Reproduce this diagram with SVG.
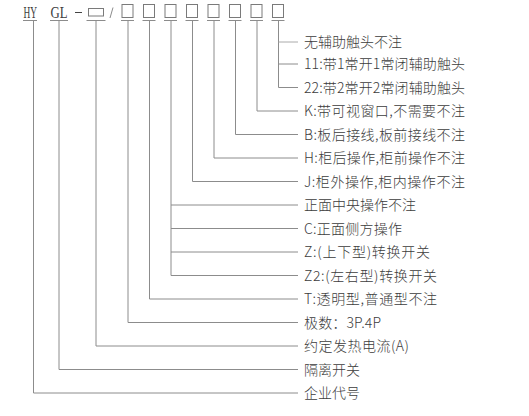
<svg xmlns="http://www.w3.org/2000/svg" width="529" height="416" viewBox="0 0 529 416">
<style>
.ln{stroke:#8c8c8c;stroke-width:1;fill:none}
.bx{stroke:#7a7a7a;stroke-width:1;fill:#fff}
.lb{font-family:"Noto Sans CJK SC","Noto Sans",sans-serif;font-size:14px;font-weight:300;fill:#3c3c3c}
.hd{font-family:"Liberation Serif","DejaVu Serif",serif;font-size:16px;fill:#3c3c3c}
</style>
<rect width="529" height="416" fill="#fff"/>
<g id="header">
<text class="hd" x="23.5" y="18" textLength="13.5" lengthAdjust="spacingAndGlyphs">HY</text>
<text class="hd" x="50.5" y="18" textLength="17" lengthAdjust="spacingAndGlyphs">GL</text>
<line class="ln" x1="75" y1="12.5" x2="82" y2="12.5" style="stroke:#444"/>
<rect class="bx" x="88.5" y="8.5" width="15" height="7.5"/>
<line class="ln" x1="113" y1="7.5" x2="110" y2="18"/>
<rect class="bx" x="122" y="4.5" width="11" height="13"/>
<rect class="bx" x="143.5" y="4.5" width="11" height="13"/>
<rect class="bx" x="165" y="4.5" width="11" height="13"/>
<rect class="bx" x="186.5" y="4.5" width="11" height="13"/>
<rect class="bx" x="208" y="4.5" width="11" height="13"/>
<rect class="bx" x="229.5" y="4.5" width="11" height="13"/>
<rect class="bx" x="251" y="4.5" width="11" height="13"/>
<rect class="bx" x="272.5" y="4.5" width="11" height="13"/>
<g class="ln">
<line x1="23" y1="20.5" x2="37" y2="20.5"/>
<line x1="50" y1="20.5" x2="68" y2="20.5"/>
<line x1="86.5" y1="20.5" x2="105.5" y2="20.5"/>
<line x1="121" y1="20.5" x2="134" y2="20.5"/>
<line x1="142.5" y1="20.5" x2="155.5" y2="20.5"/>
<line x1="164" y1="20.5" x2="177" y2="20.5"/>
<line x1="185.5" y1="20.5" x2="198.5" y2="20.5"/>
<line x1="207" y1="20.5" x2="220" y2="20.5"/>
<line x1="228.5" y1="20.5" x2="241.5" y2="20.5"/>
<line x1="250" y1="20.5" x2="263" y2="20.5"/>
<line x1="271.5" y1="20.5" x2="284.5" y2="20.5"/>
</g>
</g>
<g id="connectors" class="ln">
<polyline points="278.5,20.5 278.5,87.5 298,87.5"/>
<line x1="278.5" y1="42" x2="298" y2="42" style="stroke:#aaa"/>
<line x1="278.5" y1="64" x2="298" y2="64"/>
<polyline points="257,20.5 257,111 298,111"/>
<polyline points="235.5,20.5 235.5,134.5 298,134.5"/>
<polyline points="214,20.5 214,158 298,158"/>
<polyline points="192.5,20.5 192.5,181.5 298,181.5"/>
<polyline points="171,20.5 171,275.5 298,275.5"/>
<line x1="171" y1="205" x2="298" y2="205"/>
<line x1="171" y1="228.5" x2="298" y2="228.5"/>
<line x1="171" y1="252" x2="298" y2="252"/>
<polyline points="149.5,20.5 149.5,299 298,299"/>
<polyline points="128,20.5 128,322.5 298,322.5"/>
<polyline points="96,20.5 96,346 298,346"/>
<polyline points="59,20.5 59,369.5 298,369.5"/>
<polyline points="33.5,20.5 33.5,393 298,393"/>
</g>
<g id="labels" class="lb">
<text x="304" y="47" textLength="98">无辅助触头不注</text>
<text x="304" y="69" textLength="161">11:带1常开1常闭辅助触头</text>
<text x="304" y="92.5" textLength="161">22:带2常开2常闭辅助触头</text>
<text x="304" y="116" textLength="161">K:带可视窗口,不需要不注</text>
<text x="304" y="139.5" textLength="161">B:板后接线,板前接线不注</text>
<text x="304" y="163" textLength="161">H:柜后操作,柜前操作不注</text>
<text x="304" y="186.5" textLength="161">J:柜外操作,柜内操作不注</text>
<text x="304" y="210" textLength="112">正面中央操作不注</text>
<text x="304" y="233.5" textLength="98">C:正面侧方操作</text>
<text x="304" y="257" textLength="126">Z:(上下型)转换开关</text>
<text x="304" y="280.5" textLength="133">Z2:(左右型)转换开关</text>
<text x="304" y="304" textLength="133">T:透明型,普通型不注</text>
<text x="304" y="327.5" textLength="77">极数：3P.4P</text>
<text x="304" y="351" textLength="105">约定发热电流(A)</text>
<text x="304" y="374.5" textLength="56">隔离开关</text>
<text x="304" y="398" textLength="56">企业代号</text>
</g>
</svg>
